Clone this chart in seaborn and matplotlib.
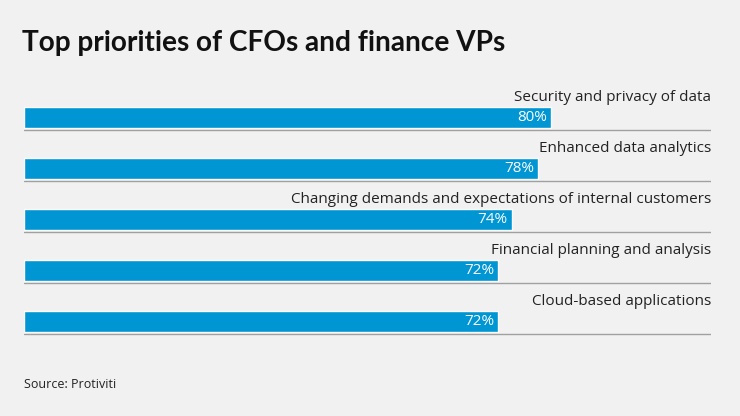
import matplotlib
matplotlib.use('Agg')
import matplotlib.pyplot as plt
import seaborn as sns
import pandas as pd

# Chart data
priorities = [
    'Security and privacy of data',
    'Enhanced data analytics',
    'Changing demands and expectations of internal customers',
    'Financial planning and analysis',
    'Cloud-based applications',
]
shares = [80, 78, 74, 72, 72]

data = pd.DataFrame({'Priority': priorities, 'Share': shares})

bg = '#f0f1f0'
bar_color = '#0095d3'

sns.set_style('white')
plt.rcParams['font.family'] = ['Open Sans', 'DejaVu Sans']

fig = plt.figure(figsize=(7.4, 4.16), dpi=100, facecolor=bg)
ax = fig.add_axes([24 / 740, 0.1659, 687 / 740, 0.6129])
ax.set_facecolor(bg)

sns.barplot(data=data, x='Share', y='Priority', orient='h', color=bar_color,
            width=0.41, saturation=1, ax=ax)

ax.set_xlim(0, 100 * 687 / 659)
ax.set_ylim(4.5, -0.5)

for i, row in data.iterrows():
    # category label above the bar, right-aligned
    ax.text(1.0, i - 0.4, row['Priority'], transform=ax.get_yaxis_transform(),
            ha='right', va='center', fontsize=11, color='#222222')
    # value inside the bar
    ax.text(row['Share'] - 0.6, i, f"{row['Share']}%", ha='right', va='center',
            fontsize=11, color='white')
    # separator line under each bar
    ax.axhline(i + 0.25, color='#a0a0a0', lw=1)

ax.set_xlabel('')
ax.set_ylabel('')
ax.set_xticks([])
ax.set_yticks([])
sns.despine(ax=ax, left=True, bottom=True)

fig.text(22 / 740, 1 - 43 / 416, 'Top priorities of CFOs and finance VPs',
         ha='left', va='center', fontsize=20.2, fontweight='bold', color='#111111',
         family=['Lato', 'DejaVu Sans'])
fig.text(24 / 740, 1 - 385 / 416, 'Source: Protiviti', ha='left', va='center',
         fontsize=9, color='#222222')

fig.savefig('out.png', dpi=100, facecolor=bg)
